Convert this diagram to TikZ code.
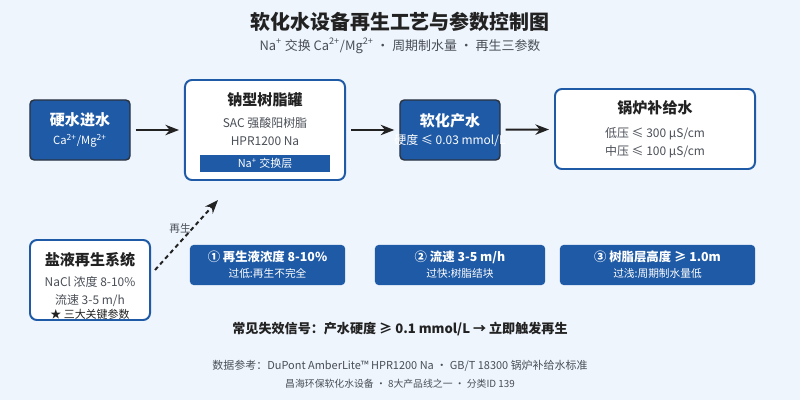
\documentclass[tikz,border=0pt]{standalone}
\usepackage{fontspec}
\setmainfont{Noto Sans CJK SC}
\usetikzlibrary{arrows.meta,positioning}
\definecolor{resinblue}{HTML}{1F5AA6}
\definecolor{pagebg}{HTML}{EEF5FD}
\definecolor{inkdark}{HTML}{222222}
\definecolor{inkgray}{HTML}{4A4F57}
\definecolor{boxedge}{HTML}{2B3340}
\tikzset{
    softener diagram/.style = {x=0.025cm, y=-0.025cm,
                               >={Stealth[length=3.4mm, width=2.6mm]}},
    flow/.style        = {->, line width=1.4pt, draw=inkdark,
                          shorten <=0.125cm, shorten >=0.125cm},
    regen/.style       = {->, line width=1.4pt, draw=inkdark, dashed,
                          dash pattern=on 3pt off 2.4pt},
    darkbox/.style     = {draw=boxedge, line width=1pt, fill=resinblue,
                          rounded corners=3pt, text=white, align=center,
                          minimum width=2.5cm, minimum height=1.5cm,
                          inner sep=0pt},
    litebox/.style     = {draw=resinblue, line width=1.4pt, fill=white,
                          rounded corners=5pt, text=inkdark, align=center,
                          inner sep=0pt},
    parambox/.style    = {fill=resinblue, rounded corners=2.5pt, text=white,
                          align=center, minimum height=1cm, inner sep=0pt},
    body/.style        = {font=\fontsize{8.5}{12.8}\selectfont},
    note/.style        = {font=\fontsize{7.6}{10}\selectfont}
}
\begin{document}
\begin{tikzpicture}[softener diagram]

% Page and margins
\fill[pagebg] (0,0) rectangle (800,400);
\useasboundingbox (0,0) rectangle (800,400);

% Title
\node[text=inkdark, font=\fontsize{14.2}{16}\selectfont\bfseries] (title)
    at (400,22) {软化水设备再生工艺与参数控制图};
\node[text=inkgray, font=\fontsize{9.2}{11}\selectfont] (subtitle)
    at (400,46) {Na\textsuperscript{+} 交换 Ca\textsuperscript{2+}/Mg\textsuperscript{2+} · 周期制水量 · 再生三参数};

% Main water path
\node[darkbox] (hard) at (80,130)
    {{\fontsize{10.7}{13}\selectfont\bfseries 硬水进水}\\[1pt]
     {\fontsize{8}{10}\selectfont Ca\textsuperscript{2+}/Mg\textsuperscript{2+}}};
\node[litebox, minimum width=4cm, minimum height=2.5cm] (tank) at (265,130) {};
\node[text=inkdark, align=center, body] (tanktext) at (265,119)
    {{\fontsize{10.7}{13}\selectfont\bfseries 钠型树脂罐}\\[3pt]
     {\color{inkgray}SAC 强酸阳树脂}\\{\color{inkgray}HPR1200 Na}};
\node[fill=resinblue, text=white, minimum width=3.25cm, minimum height=0.43cm,
      inner sep=0pt, font=\fontsize{7.8}{9}\selectfont] (tankbar)
    at (265,163.5) {Na\textsuperscript{+} 交换层};
\node[darkbox] (soft) at (450,130)
    {{\fontsize{10.7}{13}\selectfont\bfseries 软化产水}\\[1pt]
     {\fontsize{8.5}{10}\selectfont\makebox[0pt]{硬度 ≤ 0.03 mmol/L}}};
\node[litebox, minimum width=5cm, minimum height=2cm, body] (boiler) at (655,129)
    {{\fontsize{10.7}{13}\selectfont\bfseries 锅炉补给水}\\[4pt]
     {\color{inkgray}低压 ≤ 300 µS/cm}\\{\color{inkgray}中压 ≤ 100 µS/cm}};

\draw[flow] (hard) -- (tank);
\draw[flow] (tank) -- (soft);
\draw[flow] (soft) -- (boiler);

% Brine regeneration
\node[litebox, minimum width=3cm, minimum height=2cm, body] (brine) at (90,280) {};
\node[text=inkdark, align=center, body] (brinetext) at (90,286)
    {{\fontsize{10.7}{13}\selectfont\bfseries 盐液再生系统}\\[2pt]
     {\color{inkgray}NaCl 浓度 8-10\%}\\{\color{inkgray}流速 3-5 m/h}\\[-2.5pt]
     {\fontsize{7.8}{10}\selectfont ★ 三大关键参数}};
\coordinate (regenfrom) at (155,270);
\coordinate (regento) at (218,200);
\draw[regen] (regenfrom) -- (regento);
\node[text=inkgray, note] (regenlbl) at (180,228) {再生};

% Three key parameters
\node[parambox, minimum width=3.875cm] (p1) at (267.5,265)
    {{\fontsize{8.8}{11}\selectfont\bfseries ① 再生液浓度 8-10\%}\\[-0.5pt]
     {\fontsize{7.6}{10}\selectfont 过低:再生不完全}};
\node[parambox, minimum width=4.25cm] (p2) at (460,265)
    {{\fontsize{8.8}{11}\selectfont\bfseries ② 流速 3-5 m/h}\\[-0.5pt]
     {\fontsize{7.6}{10}\selectfont 过快:树脂结块}};
\node[parambox, minimum width=4.875cm] (p3) at (657.5,265)
    {{\fontsize{8.8}{11}\selectfont\bfseries ③ 树脂层高度 ≥ 1.0m}\\[-0.5pt]
     {\fontsize{7.6}{10}\selectfont 过浅:周期制水量低}};

% Failure signal and sources
\node[text=inkdark, font=\fontsize{9.3}{11}\selectfont\bfseries] (signal)
    at (400,329) {常见失效信号：产水硬度 ≥ 0.1 mmol/L → 立即触发再生};
\node[text=inkgray, font=\fontsize{7.8}{10}\selectfont] (source)
    at (400,366) {数据参考：DuPont AmberLite™ HPR1200 Na · GB/T 18300 锅炉补给水标准};
\node[text=inkgray, font=\fontsize{7}{9}\selectfont] (company)
    at (400,384) {昌海环保软化水设备 · 8大产品线之一 · 分类ID 139};

\end{tikzpicture}
\end{document}
